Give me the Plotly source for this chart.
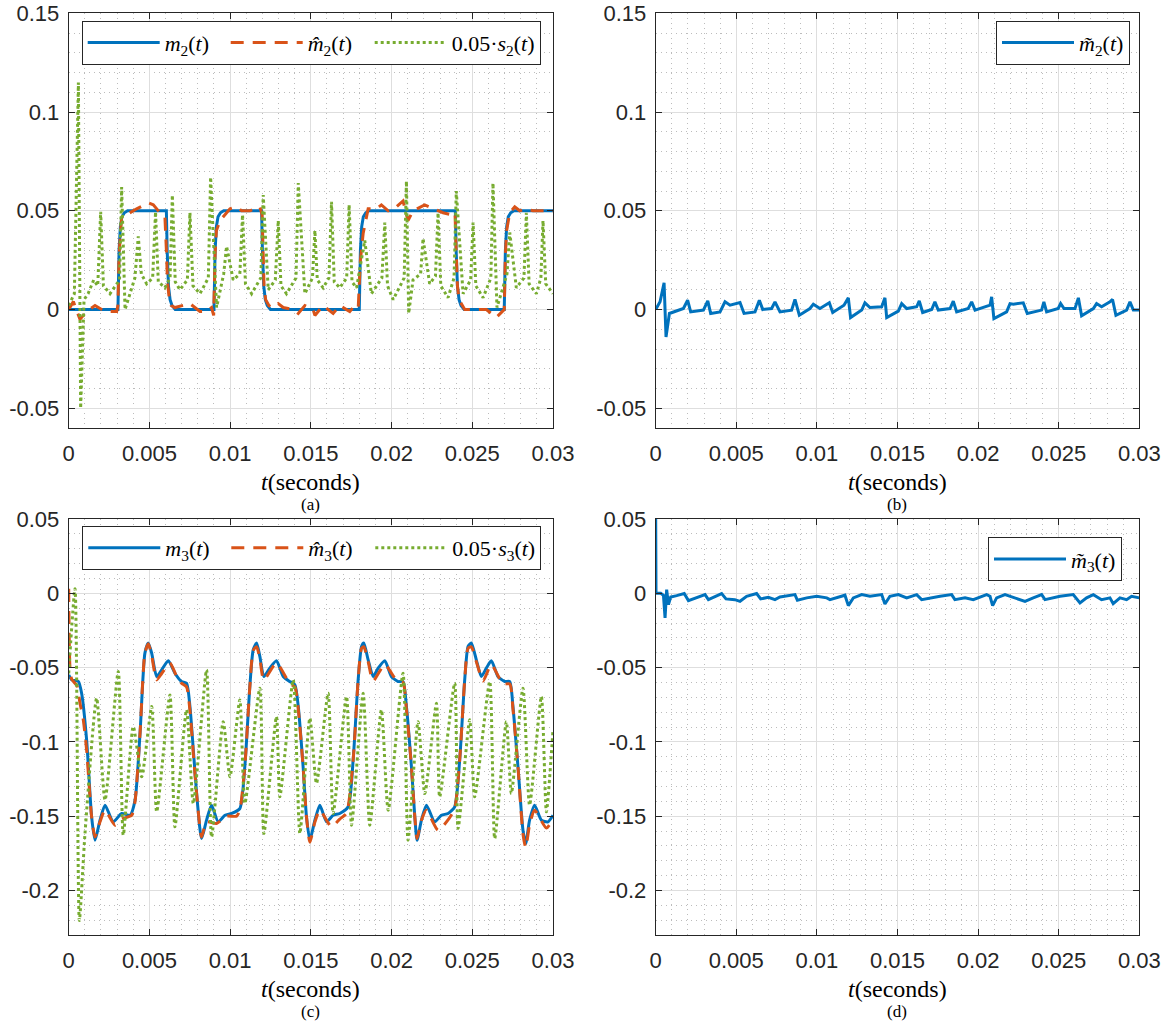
import numpy as np
import plotly.graph_objects as go

# ---------------- data (time in milliseconds) ----------------
# (a) m2(t)
t_m2 = [0, 3.05, 3.12, 3.2, 3.3, 3.45, 3.65, 6.05, 6.1, 6.18, 6.28, 6.4, 6.6,
        9.0, 9.07, 9.15, 9.25, 9.4, 9.6, 11.95, 12.0, 12.08, 12.18, 12.3, 12.5,
        18.0, 18.07, 18.15, 18.25, 18.4, 18.6, 23.95, 24.0, 24.08, 24.18, 24.3, 24.5,
        26.98, 27.05, 27.13, 27.23, 27.38, 27.58, 30.0]
m2 = [0, 0, 0.03, 0.042, 0.047, 0.049, 0.05, 0.05, 0.03, 0.012, 0.005, 0.002, 0,
      0, 0.03, 0.042, 0.047, 0.049, 0.05, 0.05, 0.03, 0.012, 0.005, 0.002, 0,
      0, 0.03, 0.042, 0.047, 0.049, 0.05, 0.05, 0.03, 0.012, 0.005, 0.002, 0,
      0, 0.03, 0.042, 0.047, 0.049, 0.05, 0.05]

# (a) m2-hat(t)
t_m2hat = [0.0, 0.29, 0.70, 1.11, 1.63, 2.25, 2.97, 3.05, 3.12, 3.20, 3.28, 3.59, 4.21, 4.93,
           5.24, 5.65, 5.96, 6.05, 6.12, 6.22, 6.35, 6.58, 7.10, 7.51, 8.13, 8.54, 8.85, 8.98,
           9.07, 9.15, 9.37, 9.99, 10.40, 10.71, 11.22, 11.84, 11.98, 12.02, 12.10, 12.20, 12.40,
           12.67, 12.98, 13.29, 13.91, 14.22, 14.63, 15.14, 15.25, 15.76, 16.38, 16.79, 17.41,
           17.62, 17.93, 18.07, 18.24, 18.55, 19.06, 19.37, 19.79, 20.30, 20.71, 21.02, 21.33,
           22.05, 22.57, 23.19, 23.71, 23.93, 24.00, 24.08, 24.18, 24.53, 24.84, 25.46, 25.87,
           26.49, 26.90, 26.98, 27.05, 27.13, 27.32, 27.63, 27.94, 28.35, 28.76, 30.0]
m2hat = [0.0, 0.004, -0.005, -0.001, 0.002, -0.001, -0.001, 0.002, 0.028, 0.040, 0.047, 0.048, 0.051, 0.054,
         0.053, 0.049, 0.047, 0.030, 0.014, 0.006, 0.002, 0.001, 0.002, 0.003, -0.001, -0.001, 0.001, -0.003,
         0.028, 0.040, 0.045, 0.051, 0.052, 0.050, 0.050, 0.052, 0.048, 0.030, 0.012, 0.005, 0.002,
         0.001, 0.003, 0.001, 0.000, -0.002, 0.002, 0.000, -0.003, 0.002, -0.002, 0.002, -0.001,
         0.001, 0.000, 0.025, 0.0385, 0.051, 0.051, 0.053, 0.050, 0.052, 0.055, 0.045, 0.050,
         0.053, 0.051, 0.049, 0.048, 0.049, 0.030, 0.012, 0.005, 0.000, 0.000, 0.000, 0.000,
         -0.004, -0.001, 0.000, 0.028, 0.040, 0.049, 0.052, 0.050, 0.051, 0.050, 0.050]

# (a) 0.05*s2(t)
t_s2 = [0.0, 0.35, 0.60, 0.74, 0.95, 1.20, 1.55, 1.80, 1.98, 2.15, 2.56, 2.87, 3.15, 3.28, 3.49,
        4.10, 4.31, 4.50, 4.83, 5.20, 5.38, 5.55, 5.96, 6.28, 6.42, 6.60, 6.89, 7.35, 7.51, 7.70,
        8.13, 8.65, 8.79, 9.16, 9.60, 9.78, 10.19, 10.60, 10.77, 10.95, 11.33, 11.90, 12.05, 12.36,
        12.80, 12.98, 13.15, 13.49, 14.08, 14.22, 14.63, 15.10, 15.25, 15.40, 15.76, 16.12, 16.28,
        16.45, 16.79, 17.22, 17.37, 17.55, 17.83, 18.34, 18.75, 19.40, 19.58, 19.75, 20.10, 20.78,
        20.92, 21.06, 21.33, 21.80, 21.95, 22.36, 22.72, 22.88, 23.05, 23.50, 23.87, 24.01, 24.43,
        24.90, 25.05, 25.22, 25.67, 26.15, 26.28, 26.53, 27.15, 27.32, 27.73, 28.20, 28.35, 28.52,
        28.97, 29.25, 29.38, 29.55, 30.0]
s2 = [0.002, 0.008, 0.115, -0.050, 0.005, 0.008, 0.015, 0.012, 0.0495, 0.012, 0.008, 0.012, 0.015, 0.062, 0.000,
      0.016, 0.037, 0.018, 0.013, 0.016, 0.0495, 0.014, 0.011, 0.016, 0.058, 0.014, 0.010, 0.015, 0.049, 0.012,
      0.008, 0.016, 0.067, 0.001, 0.018, 0.032, 0.015, 0.018, 0.048, 0.013, 0.008, 0.016, 0.058, 0.010,
      0.015, 0.045, 0.012, 0.008, 0.016, 0.064, 0.008, 0.016, 0.040, 0.015, 0.011, 0.016, 0.0545,
      0.014, 0.011, 0.016, 0.053, 0.014, 0.011, 0.035, 0.008, 0.016, 0.044, 0.012, 0.005, 0.016,
      0.065, -0.002, 0.015, 0.018, 0.036, 0.013, 0.017, 0.049, 0.012, 0.006, 0.016, 0.060, 0.008,
      0.015, 0.044, 0.012, 0.006, 0.016, 0.064, 0.001, 0.018, 0.039, 0.011, 0.016, 0.049, 0.013,
      0.008, 0.016, 0.045, 0.013, 0.008]

# (b) m2-tilde(t)
t_m2tilde = [0.00, 0.27, 0.52, 0.64, 0.85, 1.10, 1.72, 1.98, 2.17, 2.96, 3.23, 3.41, 3.99, 4.30, 4.61,
             5.23, 5.48, 6.16, 6.43, 6.64, 7.19, 7.40, 7.71, 8.43, 8.64, 8.91, 9.57, 9.78, 10.19,
             10.77, 10.98, 11.68, 11.95, 12.09, 12.78, 12.98, 13.29, 14.02, 14.22, 14.33, 15.05,
             15.26, 15.57, 16.19, 16.35, 16.56, 17.12, 17.32, 17.53, 18.26, 18.46, 18.67, 19.39,
             19.60, 19.81, 20.74, 20.84, 20.98, 21.77, 21.98, 22.18, 22.80, 23.05, 23.94, 24.08,
             24.25, 24.97, 25.12, 25.33, 26.01, 26.22, 26.42, 27.15, 27.35, 27.66, 28.18, 28.34,
             28.55, 29.21, 29.42, 29.63, 30.00]
m2tilde = [0.000, 0.0039, 0.0135, -0.0139, -0.0020, -0.0012, 0.0005, 0.0047, -0.0012, -0.0003, 0.0044, -0.0020,
           -0.0012, 0.0039, 0.0022, 0.0035, -0.0020, -0.0012, 0.0047, 0.000, 0.0005, 0.0039, -0.0012,
           -0.0003, 0.0051, -0.0029, 0.0005, 0.0027, 0.0005, 0.0034, -0.0015, 0.0022, 0.0059, -0.0041,
           -0.0003, 0.0034, 0.0010, 0.0014, 0.0059, -0.0041, -0.0008, 0.0030, 0.0005, 0.0014, 0.0044,
           -0.0015, 0.000, 0.0039, -0.0003, 0.0005, 0.0042, -0.0012, 0.0005, 0.0039, -0.0003, 0.0022,
           0.0064, -0.0046, -0.0012, 0.0030, 0.0027, 0.0034, -0.0020, -0.0003, 0.0039, -0.0012, 0.0005,
           0.0030, 0.0005, 0.0005, 0.0059, -0.0032, 0.0005, 0.0030, 0.0014, 0.0039, 0.0051, -0.0029,
           -0.0003, 0.0039, -0.0003, -0.0003]

# (c) m3(t)
t_m3 = [0.00, 0.19, 0.60, 0.80, 1.11, 1.42, 1.63, 1.94, 2.25, 2.76, 3.28, 3.80, 4.11, 4.42, 4.72,
        4.93, 5.14, 5.45, 5.76, 6.17, 6.58, 6.99, 7.30, 7.51, 7.72, 7.96, 8.23, 8.54, 8.85, 9.26,
        9.68, 10.09, 10.60, 10.91, 11.22, 11.43, 11.64, 11.84, 12.09, 12.46, 12.87, 13.29, 13.70,
        14.01, 14.22, 14.52, 14.73, 14.94, 15.25, 15.56, 15.97, 16.38, 16.79, 17.31, 17.62, 17.93,
        18.14, 18.28, 18.55, 18.86, 19.17, 19.58, 19.99, 20.40, 20.71, 20.92, 21.23, 21.44, 21.58,
        21.85, 22.16, 22.67, 23.09, 23.50, 23.91, 24.22, 24.53, 24.74, 24.94, 25.25, 25.56, 25.87,
        26.18, 26.59, 27.01, 27.32, 27.52, 27.83, 28.14, 28.31, 28.55, 28.86, 29.28, 29.69, 30.00]
m3 = [-0.0549, -0.0583, -0.0594, -0.0673, -0.0987, -0.1505, -0.1662, -0.1527, -0.1426, -0.1538, -0.1482,
      -0.1494, -0.1392, -0.0942, -0.0403, -0.0335, -0.0403, -0.0560, -0.0515, -0.0454, -0.0538, -0.0594,
      -0.0605, -0.0762, -0.1055, -0.1392, -0.1651, -0.1527, -0.1426, -0.1538, -0.1494, -0.1482, -0.1449,
      -0.1167, -0.0628, -0.0380, -0.0335, -0.0425, -0.0560, -0.0504, -0.0454, -0.0560, -0.0594, -0.0616,
      -0.0762, -0.1167, -0.1505, -0.1662, -0.1527, -0.1426, -0.1538, -0.1494, -0.1482, -0.1437, -0.1122,
      -0.0583, -0.0358, -0.0335, -0.0448, -0.0560, -0.0504, -0.0454, -0.0560, -0.0594, -0.0594, -0.0762,
      -0.1167, -0.1505, -0.1662, -0.1527, -0.1426, -0.1538, -0.1494, -0.1482, -0.1437, -0.1122, -0.0583,
      -0.0358, -0.0335, -0.0448, -0.0560, -0.0504, -0.0454, -0.0560, -0.0594, -0.0594, -0.0762, -0.1167,
      -0.1595, -0.1685, -0.1527, -0.1426, -0.1527, -0.1538, -0.1494]

# (c) m3-hat(t)
t_m3hat = [0.00, 0.08, 0.19, 0.50, 0.70, 0.90, 1.11, 1.42, 1.63, 1.94, 2.25, 2.87, 3.28, 3.90, 4.11,
           4.42, 4.72, 4.93, 5.14, 5.45, 5.76, 6.27, 6.69, 6.99, 7.30, 7.51, 7.72, 7.96, 8.23, 8.54,
           9.16, 9.78, 10.40, 10.60, 10.91, 11.22, 11.43, 11.64, 11.84, 12.09, 12.87, 13.70, 14.01,
           14.22, 14.52, 14.73, 14.94, 15.25, 15.56, 16.28, 16.79, 17.21, 17.62, 17.93, 18.14, 18.28,
           18.55, 18.86, 19.58, 20.30, 20.71, 20.92, 21.23, 21.44, 21.58, 21.85, 22.16, 22.88, 23.60,
           23.91, 24.22, 24.53, 24.74, 24.94, 25.25, 25.67, 26.18, 26.90, 27.32, 27.52, 27.83, 28.14,
           28.31, 28.55, 28.86, 29.59, 30.00]
m3hat = [0.003, -0.050, -0.058, -0.062, -0.074, -0.085, -0.1055, -0.1505, -0.1640, -0.1538, -0.1460, -0.1561,
         -0.1520, -0.1494, -0.1400, -0.0942, -0.0403, -0.0340, -0.0420, -0.0583, -0.0540, -0.0470, -0.0560,
         -0.0605, -0.0630, -0.0790, -0.1080, -0.1392, -0.1640, -0.1538, -0.1550, -0.1500, -0.1500, -0.1460,
         -0.1167, -0.0628, -0.0385, -0.0360, -0.0440, -0.0583, -0.0470, -0.0610, -0.0630, -0.0780,
         -0.1167, -0.1505, -0.1675, -0.1540, -0.1460, -0.1572, -0.1520, -0.1480, -0.1122, -0.0583,
         -0.0370, -0.0360, -0.0460, -0.0590, -0.0480, -0.0585, -0.0600, -0.0780, -0.1167, -0.1505,
         -0.1650, -0.1527, -0.1460, -0.1595, -0.1510, -0.1450, -0.1122, -0.0583, -0.0370, -0.0360,
         -0.0460, -0.0590, -0.0480, -0.0610, -0.0610, -0.0780, -0.1167, -0.1620, -0.1710, -0.1560,
         -0.1460, -0.1580, -0.1520]

# (c) 0.05*s3(t)
t_s3 = [0.00, 0.39, 0.66, 1.01, 1.73, 2.25, 3.07, 3.38, 4.00, 4.52, 5.14, 5.45, 6.27, 6.58, 7.30,
        7.72, 8.54, 8.85, 9.57, 9.99, 10.60, 10.91, 11.84, 12.09, 12.87, 13.08, 13.91, 14.32, 14.94,
        15.35, 16.07, 16.38, 17.21, 17.52, 18.24, 18.65, 19.37, 19.79, 20.71, 21.02, 21.64, 22.06,
        22.78, 22.98, 23.91, 24.12, 24.84, 25.15, 26.08, 26.39, 27.11, 27.42, 28.14, 28.55, 29.28,
        29.59, 30.00]
s3 = [-0.054, 0.003, -0.2202, -0.1617, -0.0706, -0.1392, -0.0526, -0.1628, -0.0897, -0.1235, -0.0762,
      -0.1471, -0.0684, -0.1572, -0.0785, -0.1415, -0.0515, -0.1640, -0.0864, -0.1235, -0.0718, -0.1415,
      -0.0639, -0.1617, -0.0830, -0.1370, -0.0583, -0.1617, -0.0841, -0.1280, -0.0673, -0.1482, -0.0695,
      -0.1561, -0.0673, -0.1561, -0.0785, -0.1460, -0.0538, -0.1662, -0.0864, -0.1347, -0.0740, -0.1370,
      -0.0605, -0.1583, -0.0852, -0.1370, -0.0594, -0.1651, -0.0864, -0.1347, -0.0639, -0.1426, -0.0695,
      -0.1471, -0.0920]

# (d) m3-tilde(t)
t_m3tilde = [0.00, 0.02, 0.31, 0.48, 0.58, 0.68, 0.79, 0.93, 1.30, 1.77, 2.03, 2.65, 3.06, 3.27, 3.68,
             4.09, 4.36, 4.91, 5.23, 5.64, 6.26, 6.51, 6.99, 7.40, 7.71, 8.13, 8.64, 8.79, 9.37, 9.99,
             10.61, 10.81, 11.43, 11.74, 11.95, 12.26, 12.78, 13.29, 14.02, 14.22, 14.53, 15.05, 15.57,
             16.19, 16.50, 17.01, 17.64, 18.36, 18.56, 19.19, 19.70, 20.53, 20.74, 20.90, 21.15, 21.67,
             21.98, 22.91, 23.42, 23.94, 24.15, 25.08, 25.90, 26.32, 26.73, 27.15, 27.66, 28.18, 28.38,
             28.80, 29.21, 29.52, 30.00]
m3tilde = [0.050, 0.000, 0.000, -0.0013, -0.0166, 0.0025, -0.0076, -0.0025, -0.0016, -0.0002, -0.0049, -0.0027,
           -0.0009, -0.0043, -0.0020, -0.0002, -0.0038, -0.0043, -0.0054, -0.0020, -0.0002, -0.0038, -0.0027,
           -0.0043, -0.0025, -0.0016, -0.0009, -0.0047, -0.0031, -0.0020, -0.0031, -0.0043, -0.0020, -0.0013,
           -0.0083, -0.0031, -0.0009, -0.0020, -0.0009, -0.0072, -0.0020, -0.0009, -0.0031, -0.0009, -0.0043,
           -0.0031, -0.0020, -0.0009, -0.0043, -0.0031, -0.0043, -0.0009, -0.0020, -0.0083, -0.0031, -0.0009,
           -0.0020, -0.0054, -0.0031, -0.0009, -0.0043, -0.0020, -0.0009, -0.0065, -0.0031, -0.0009, -0.0043,
           -0.0031, -0.0070, -0.0031, -0.0043, -0.0020, -0.0031]

# ticks
x_ticks = [0, 0.005, 0.01, 0.015, 0.02, 0.025, 0.03]
x_ticktext = ["0", "0.005", "0.01", "0.015", "0.02", "0.025", "0.03"]
y_ticks_top = [-0.05, 0, 0.05, 0.1, 0.15]
y_ticktext_top = ["-0.05", "0", "0.05", "0.1", "0.15"]
y_ticks_bot = [-0.2, -0.15, -0.1, -0.05, 0, 0.05]
y_ticktext_bot = ["-0.2", "-0.15", "-0.1", "-0.05", "0", "0.05"]

# ---------------- styling ----------------
BLUE = "#0072BD"
ORANGE = "#D95319"
GREEN = "#77AC30"
AX = "#262626"
SANS = "Liberation Sans, Arial, Helvetica, sans-serif"
SERIF = "Liberation Serif, Times New Roman, DejaVu Serif, serif"
LW = 3
DASH = "13px,9px"
LEGW = [56, 57, 0]   # 0 -> sized to its text


def ms(v):
    return np.asarray(v, dtype=float) * 1e-3


fig = go.Figure()

# (a)
fig.add_trace(go.Scatter(x=ms(t_m2), y=m2, mode="lines", xaxis="x", yaxis="y", legend="legend",
                         name="<i>m</i><sub>2</sub>(<i>t</i>)", legendwidth=LEGW[0],
                         line=dict(color=BLUE, width=LW)))
fig.add_trace(go.Scatter(x=ms(t_m2hat), y=m2hat, mode="lines", xaxis="x", yaxis="y", legend="legend",
                         name="<i>m\u0302</i><sub>2</sub>(<i>t</i>)", legendwidth=LEGW[1],
                         line=dict(color=ORANGE, width=LW, dash=DASH)))
fig.add_trace(go.Scatter(x=ms(t_s2), y=s2, mode="lines", xaxis="x", yaxis="y", legend="legend",
                         name="0.05\u00b7<i>s</i><sub>2</sub>(<i>t</i>)", legendwidth=LEGW[2],
                         line=dict(color=GREEN, width=LW, dash="dot")))
# (b)
fig.add_trace(go.Scatter(x=ms(t_m2tilde), y=m2tilde, mode="lines", xaxis="x2", yaxis="y2", legend="legend2",
                         name="<i>m\u0303</i><sub>2</sub>(<i>t</i>)",
                         line=dict(color=BLUE, width=LW)))
# (c)
fig.add_trace(go.Scatter(x=ms(t_m3), y=m3, mode="lines", xaxis="x3", yaxis="y3", legend="legend3",
                         name="<i>m</i><sub>3</sub>(<i>t</i>)", legendwidth=LEGW[0],
                         line=dict(color=BLUE, width=LW, shape="spline", smoothing=0.6)))
fig.add_trace(go.Scatter(x=ms(t_m3hat), y=m3hat, mode="lines", xaxis="x3", yaxis="y3", legend="legend3",
                         name="<i>m\u0302</i><sub>3</sub>(<i>t</i>)", legendwidth=LEGW[1],
                         line=dict(color=ORANGE, width=LW, dash=DASH, shape="spline", smoothing=0.6)))
fig.add_trace(go.Scatter(x=ms(t_s3), y=s3, mode="lines", xaxis="x3", yaxis="y3", legend="legend3",
                         name="0.05\u00b7<i>s</i><sub>3</sub>(<i>t</i>)", legendwidth=LEGW[2],
                         line=dict(color=GREEN, width=LW, dash="dot", shape="spline", smoothing=0.6)))
# (d)
fig.add_trace(go.Scatter(x=ms(t_m3tilde), y=m3tilde, mode="lines", xaxis="x4", yaxis="y4", legend="legend4",
                         name="<i>m\u0303</i><sub>3</sub>(<i>t</i>)",
                         line=dict(color=BLUE, width=LW)))

W, H = 1170, 1024
XL = [68.7 / W, 553 / W]
XR = [655.7 / W, 1139.3 / W]
YT = [1 - 428 / H, 1 - 13.3 / H]
YB = [1 - 935 / H, 1 - 519 / H]


def xaxis(domain, anchor):
    return dict(domain=domain, anchor=anchor, range=[0, 0.03],
                tickmode="array", tickvals=x_ticks, ticktext=x_ticktext,
                showgrid=True, gridcolor="#dedede", gridwidth=1,
                minor=dict(tick0=0, dtick=0.001, showgrid=True, gridcolor="#bcbcbc",
                           griddash="1px,4px", gridwidth=1, ticks=""),
                ticks="inside", ticklen=6, tickwidth=1, tickcolor=AX,
                showline=True, linecolor=AX, linewidth=1, mirror="allticks",
                zeroline=False, ticklabelstandoff=6,
                tickfont=dict(family=SANS, size=22, color=AX), automargin=False)


def yaxis(domain, anchor, rng, tv, tt):
    return dict(domain=domain, anchor=anchor, range=rng,
                tickmode="array", tickvals=tv, ticktext=tt,
                showgrid=True, gridcolor="#dedede", gridwidth=1,
                minor=dict(tick0=0, dtick=0.01, showgrid=True, gridcolor="#bcbcbc",
                           griddash="1px,4px", gridwidth=1, ticks=""),
                ticks="inside", ticklen=6, tickwidth=1, tickcolor=AX,
                showline=True, linecolor=AX, linewidth=1, mirror="allticks",
                zeroline=False, ticklabelstandoff=4,
                tickfont=dict(family=SANS, size=22, color=AX), automargin=False)


def legend(x, y, xanchor, orientation):
    return dict(x=x, y=y, xanchor=xanchor, yanchor="top", orientation=orientation,
                bgcolor="white", bordercolor=AX, borderwidth=1, itemwidth=72,
                font=dict(family=SERIF, size=22, color="black"),
                tracegroupgap=0, itemclick=False, itemdoubleclick=False)


annotations = []
for xc, ybase, cap in [((XL[0] + XL[1]) / 2, 428, "(a)"), ((XR[0] + XR[1]) / 2, 428, "(b)"),
                       ((XL[0] + XL[1]) / 2, 935, "(c)"), ((XR[0] + XR[1]) / 2, 935, "(d)")]:
    annotations.append(dict(x=xc, y=1 - (ybase + 54) / H, xref="paper", yref="paper", showarrow=False,
                            text="<i>t</i>(seconds)", font=dict(family=SERIF, size=24, color="black"),
                            xanchor="center", yanchor="middle"))
    annotations.append(dict(x=xc, y=1 - (ybase + 76) / H, xref="paper", yref="paper", showarrow=False,
                            text=cap, font=dict(family=SERIF, size=17, color="black"),
                            xanchor="center", yanchor="middle"))

fig.update_layout(
    width=W, height=H, margin=dict(l=0, r=0, t=0, b=0),
    paper_bgcolor="white", plot_bgcolor="white",
    xaxis=xaxis(XL, "y"), yaxis=yaxis(YT, "x", [-0.06, 0.15], y_ticks_top, y_ticktext_top),
    xaxis2=xaxis(XR, "y2"), yaxis2=yaxis(YT, "x2", [-0.06, 0.15], y_ticks_top, y_ticktext_top),
    xaxis3=xaxis(XL, "y3"), yaxis3=yaxis(YB, "x3", [-0.23, 0.05], y_ticks_bot, y_ticktext_bot),
    xaxis4=xaxis(XR, "y4"), yaxis4=yaxis(YB, "x4", [-0.23, 0.05], y_ticks_bot, y_ticktext_bot),
    legend=legend(81.7 / W, 1 - 20.7 / H, "left", "h"),
    legend2=legend(1130 / W, 1 - 20.7 / H, "right", "v"),
    legend3=legend(82.3 / W, 1 - 526 / H, "left", "h"),
    legend4=legend(1122 / W, 1 - 537.3 / H, "right", "v"),
    annotations=annotations,
    showlegend=True,
)

fig.write_html("out.html")
